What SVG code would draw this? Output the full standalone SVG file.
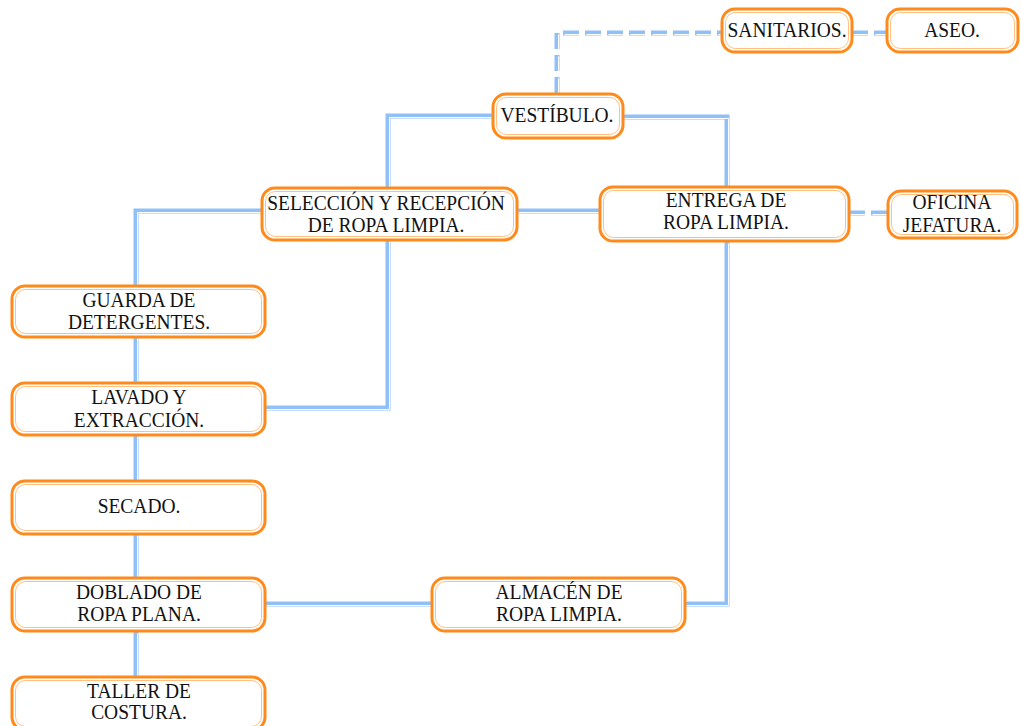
<svg xmlns="http://www.w3.org/2000/svg" width="1021" height="726" viewBox="0 0 1021 726">
<style>
.c{fill:none;stroke:#8fc0f7;stroke-width:5}
.ci{fill:none;stroke:#ffffff;stroke-width:1}
.d{stroke-dasharray:16 6}
.b{fill:#fff;stroke:#ff8a1c;stroke-width:3}
.bi{fill:none;stroke:#ffb060;stroke-width:0.8}
.t{font-size:22px;fill:#111;text-anchor:middle}
</style>
<rect width="1021" height="726" fill="#fff"/>
<g id="connectors">
<g id="solid">
<path class="c" d="M493 116H388V188"/>
<path class="c" d="M623 117H727V187"/>
<path class="c" d="M517 211H600"/>
<path class="c" d="M262 211H136V285"/>
<path class="c" d="M388 240V408H265"/>
<path class="c" d="M136 337V383"/>
<path class="c" d="M136 435V481"/>
<path class="c" d="M136 534V578"/>
<path class="c" d="M136 632V677"/>
<path class="c" d="M265 604H432"/>
<path class="c" d="M727 242V604H685"/>
<g transform="translate(1.5,1.5)">
<path class="ci" d="M493 116H388V188"/>
<path class="ci" d="M623 117H727V187"/>
<path class="ci" d="M517 211H600"/>
<path class="ci" d="M262 211H136V285"/>
<path class="ci" d="M388 240V408H265"/>
<path class="ci" d="M136 337V383"/>
<path class="ci" d="M136 435V481"/>
<path class="ci" d="M136 534V578"/>
<path class="ci" d="M136 632V677"/>
<path class="ci" d="M265 604H432"/>
<path class="ci" d="M727 242V604H685"/>
</g>
</g>
<g id="dashed">
<path class="c d" d="M557 93V33H722"/>
<path class="c d" d="M852 33H887"/>
<path class="c d" d="M849 213H888"/>
<g transform="translate(1.5,1.5)">
<path class="ci d" d="M557 93V33H722"/>
<path class="ci d" d="M852 33H887"/>
<path class="ci d" d="M849 213H888"/>
</g>
</g>
</g>
<g font-family="Liberation Serif, Times New Roman, serif">
<g id="sanitarios"><rect class="b" x="722" y="9" width="130" height="43" rx="13"/><rect class="bi" x="725.5" y="12.5" width="123" height="36" rx="10"/><text class="t" transform="matrix(.885 0 0 1 787 37)">SANITARIOS.</text></g>
<g id="aseo"><rect class="b" x="887" y="9" width="131" height="43" rx="13"/><rect class="bi" x="890.5" y="12.5" width="124" height="36" rx="10"/><text class="t" transform="matrix(.885 0 0 1 952 37)">ASEO.</text></g>
<g id="vestibulo"><rect class="b" x="493" y="94" width="130" height="44" rx="13"/><rect class="bi" x="496.5" y="97.5" width="123" height="37" rx="10"/><text class="t" transform="matrix(.885 0 0 1 557 122)">VESTÍBULO.</text></g>
<g id="seleccion"><rect class="b" x="262" y="188" width="255" height="52" rx="13"/><rect class="bi" x="265.5" y="191.5" width="248" height="45" rx="10"/><text class="t" transform="matrix(.885 0 0 1 386 210)">SELECCIÓN Y RECEPCIÓN</text><text class="t" transform="matrix(.885 0 0 1 386 232)">DE ROPA LIMPIA.</text></g>
<g id="entrega"><rect class="b" x="600" y="187" width="249" height="54" rx="13"/><rect class="bi" x="603.5" y="190.5" width="242" height="47" rx="10"/><text class="t" transform="matrix(.885 0 0 1 726 207)">ENTREGA DE</text><text class="t" transform="matrix(.885 0 0 1 726 229)">ROPA LIMPIA.</text></g>
<g id="oficina"><rect class="b" x="888" y="191" width="129" height="47" rx="13"/><rect class="bi" x="891.5" y="194.5" width="122" height="40" rx="10"/><text class="t" transform="matrix(.885 0 0 1 952 209)">OFICINA</text><text class="t" transform="matrix(.885 0 0 1 952 232)">JEFATURA.</text></g>
<g id="guarda"><rect class="b" x="12" y="286" width="253" height="51" rx="13"/><rect class="bi" x="15.5" y="289.5" width="246" height="44" rx="10"/><text class="t" transform="matrix(.885 0 0 1 139 307)">GUARDA DE</text><text class="t" transform="matrix(.885 0 0 1 139 329)">DETERGENTES.</text></g>
<g id="lavado"><rect class="b" x="12" y="383" width="253" height="52" rx="13"/><rect class="bi" x="15.5" y="386.5" width="246" height="45" rx="10"/><text class="t" transform="matrix(.885 0 0 1 139 404)">LAVADO Y</text><text class="t" transform="matrix(.885 0 0 1 139 427)">EXTRACCIÓN.</text></g>
<g id="secado"><rect class="b" x="12" y="481" width="253" height="53" rx="13"/><rect class="bi" x="15.5" y="484.5" width="246" height="46" rx="10"/><text class="t" transform="matrix(.885 0 0 1 139 513)">SECADO.</text></g>
<g id="doblado"><rect class="b" x="12" y="578" width="253" height="53" rx="13"/><rect class="bi" x="15.5" y="581.5" width="246" height="46" rx="10"/><text class="t" transform="matrix(.885 0 0 1 139 599)">DOBLADO DE</text><text class="t" transform="matrix(.885 0 0 1 139 621)">ROPA PLANA.</text></g>
<g id="taller"><rect class="b" x="12" y="677" width="253" height="53" rx="13"/><rect class="bi" x="15.5" y="680.5" width="246" height="46" rx="10"/><text class="t" transform="matrix(.885 0 0 1 139 698)">TALLER DE</text><text class="t" transform="matrix(.885 0 0 1 139 719)">COSTURA.</text></g>
<g id="almacen"><rect class="b" x="432" y="578" width="253" height="53" rx="13"/><rect class="bi" x="435.5" y="581.5" width="246" height="46" rx="10"/><text class="t" transform="matrix(.885 0 0 1 559 599)">ALMACÉN DE</text><text class="t" transform="matrix(.885 0 0 1 559 621)">ROPA LIMPIA.</text></g>
</g>
</svg>
